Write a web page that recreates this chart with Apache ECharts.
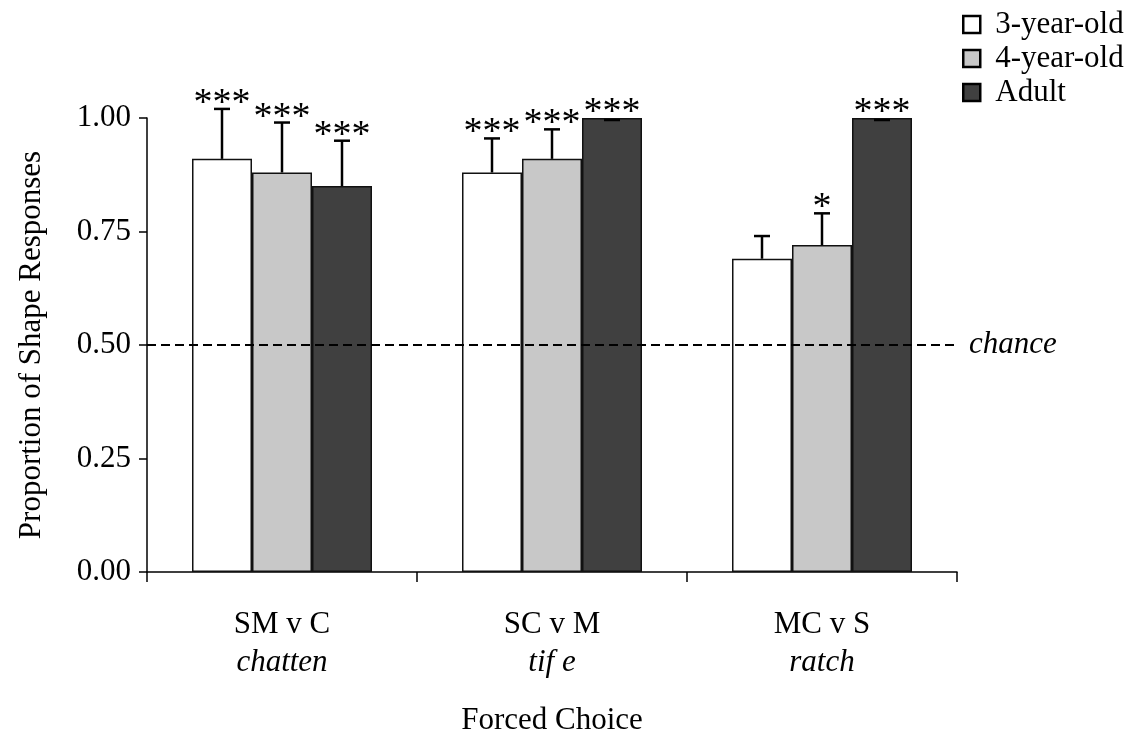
<!DOCTYPE html>
<html>
<head>
<meta charset="utf-8">
<script src="https://cdn.jsdelivr.net/npm/echarts@6/dist/echarts.min.js"></script>
<style>
  html, body { margin: 0; padding: 0; background: #fff; }
  #chart { width: 1138px; height: 736px; }
</style>
</head>
<body>
<div id="chart"></div>
<script>
var categories = ["SM v C", "SC v M", "MC v S"];
var words = ["chatten", "tif e", "ratch"];
var groups = ["3-year-old", "4-year-old", "Adult"];

var means3 = [0.91, 0.88, 0.69];
var meansFour = [0.88, 0.91, 0.72];
var meansAdult = [0.85, 1.0, 1.0];

var err3 = [0.11, 0.075, 0.05];
var errFour = [0.11, 0.065, 0.07];
var errAdult = [0.10, 0.0, 0.0];

var stars3 = ["***", "***", ""];
var starsFour = ["***", "***", "*"];
var starsAdult = ["***", "***", "***"];

var yTicks = [0, 0.25, 0.5, 0.75, 1.0];
var chanceLevel = 0.5;

var fills = ["#ffffff", "#c8c8c8", "#404040"];
var font = "'Liberation Serif', 'Times New Roman', serif";
var fs = 31;
var barW = 60;

var means = [means3, meansFour, meansAdult];
var errs = [err3, errFour, errAdult];
var stars = [stars3, starsFour, starsAdult];

var chartDom = document.getElementById("chart");
var myChart = echarts.init(chartDom);

var series = [];
groups.forEach(function (g, i) {
  var bar = {
    name: g,
    type: "bar",
    barWidth: barW,
    barGap: "0%",
    data: means[i],
    itemStyle: { color: fills[i], borderColor: "#111", borderWidth: 1.5 },
    emphasis: { disabled: true },
    z: 2
  };
  if (i === 0) {
    bar.markLine = {
      silent: true,
      symbol: "none",
      lineStyle: { color: "#000", type: [9, 5], width: 2 },
      label: {
        show: true,
        position: "end",
        distance: 12,
        formatter: "chance",
        fontFamily: font,
        fontStyle: "italic",
        fontSize: fs,
        color: "#000"
      },
      data: [{ yAxis: chanceLevel }]
    };
  }
  series.push(bar);

  var errData = means[i].map(function (m, k) {
    return [k, m, errs[i][k], stars[i][k]];
  });
  series.push({
    type: "custom",
    data: errData,
    clip: false,
    silent: true,
    z: 5,
    renderItem: (function (idx) {
      return function (params, api) {
        var k = api.value(0);
        var m = api.value(1);
        var e = api.value(2);
        var s = errData[params.dataIndex][3];
        var base = api.coord([k, m]);
        var top = api.coord([k, m + e]);
        var x = base[0] + (idx - 1) * barW;
        var capY = top[1] + (e > 0 ? 0 : 2);
        var children = [];
        if (e > 0) {
          children.push({
            type: "line",
            shape: { x1: x, y1: base[1], x2: x, y2: top[1] },
            style: { stroke: "#000", lineWidth: 2.5 }
          });
        }
        children.push({
          type: "line",
          shape: { x1: x - 8, y1: capY, x2: x + 8, y2: capY },
          style: { stroke: "#000", lineWidth: 2.5 }
        });
        if (s) {
          children.push({
            type: "text",
            style: {
              x: x,
              y: top[1] + 14,
              text: s,
              fontFamily: font,
              fontSize: 38,
              fill: "#000",
              align: "center",
              verticalAlign: "bottom"
            }
          });
        }
        return { type: "group", children: children };
      };
    })(i)
  });
});

var option = {
  animation: false,
  grid: { left: 147, right: 181, top: 118, bottom: 164, outerBoundsMode: "none", containLabel: false },
  legend: {
    orient: "vertical",
    left: 957,
    top: 4,
    itemWidth: 17,
    itemHeight: 17,
    itemGap: 3,
    icon: "rect",
    data: groups.map(function (g, i) {
      return { name: g, itemStyle: { color: fills[i], borderColor: "#000", borderWidth: 2.5 } };
    }),
    textStyle: { fontFamily: font, fontSize: fs, color: "#000", padding: [0, 0, 0, 10] },
    selectedMode: false
  },
  xAxis: {
    type: "category",
    data: categories,
    name: "Forced Choice",
    nameLocation: "middle",
    nameGap: 133,
    nameTextStyle: { fontFamily: font, fontSize: fs, color: "#000" },
    axisLine: { lineStyle: { color: "#000", width: 1.5 } },
    axisTick: { show: true, length: 10, lineStyle: { color: "#000", width: 1.5 } },
    axisLabel: {
      margin: 34,
      formatter: function (v, k) {
        return "{a|" + v + "}\n{b|" + words[k] + "}";
      },
      rich: {
        a: { fontFamily: font, fontSize: fs, color: "#000", lineHeight: 38 },
        b: { fontFamily: font, fontSize: fs, fontStyle: "italic", color: "#000", lineHeight: 38 }
      }
    }
  },
  yAxis: {
    type: "value",
    min: yTicks[0],
    max: yTicks[yTicks.length - 1],
    interval: 0.25,
    name: "Proportion of Shape Responses",
    nameLocation: "middle",
    nameGap: 100,
    nameTextStyle: { fontFamily: font, fontSize: fs, color: "#000" },
    axisLine: { show: true, lineStyle: { color: "#000", width: 1.5 } },
    axisTick: { show: true, length: 8, lineStyle: { color: "#000", width: 1.5 } },
    splitLine: { show: false },
    axisLabel: {
      margin: 16,
      fontFamily: font,
      fontSize: fs,
      color: "#000",
      formatter: function (v) { return v.toFixed(2); }
    }
  },
  series: series
};

myChart.setOption(option);
</script>
</body>
</html>
